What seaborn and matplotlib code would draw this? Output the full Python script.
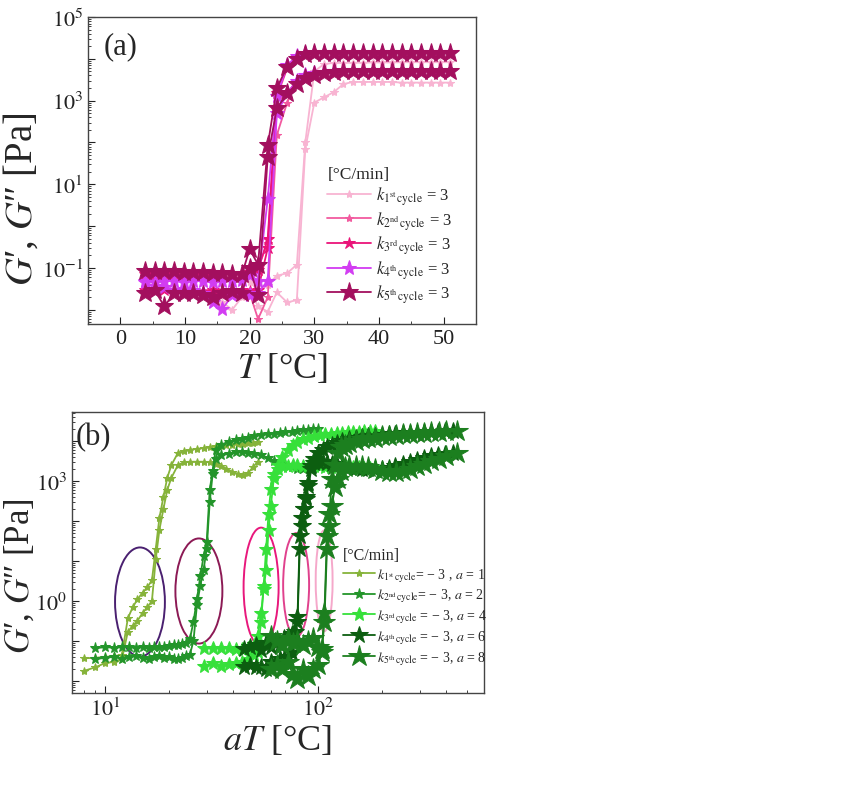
import numpy as np
import matplotlib
matplotlib.use("Agg")
import matplotlib.pyplot as plt
import seaborn as sns
from matplotlib.patches import Ellipse
from matplotlib.ticker import LogLocator, FuncFormatter, MultipleLocator, NullFormatter

# ---- panel (a): heating, k = 3 °C/min ----
T_a = [3.8, 5.3, 6.8, 8.3, 9.8, 11.3, 12.8, 14.3, 15.8, 17.3, 18.8, 20.0, 21.3, 22.8, 24.2, 25.8,
       27.3, 28.6, 30.0, 31.5, 33.0, 34.5, 36.0, 37.5, 39.0, 40.5, 42.0, 43.5, 45.0, 46.5, 48.0, 49.5, 51.0]

k1_Gp = [0.05, 0.05, 0.048, 0.05, 0.05, 0.047, 0.05, 0.045, 0.048, 0.05, 0.05, 0.045, 0.03, 0.04, 0.065,
         0.075, 0.12, 100, 5000, 7500, 8000, 8000, 8100, 8100, 8200, 8200, 8200, 8300, 8300, 8300, 8300, 8300, 8300]
k1_Gpp = [0.03, 0.028, 0.03, 0.025, 0.03, 0.028, 0.025, 0.02, 0.015, 0.01, 0.02, 0.03, 0.012, 0.009, 0.026,
          0.015, 0.017, 70, 900, 1200, 1600, 2500, 2800, 2800, 2800, 2800, 2800, 2700, 2700, 2700, 2700, 2700, 2700]
k2_Gp = [0.06, 0.062, 0.06, 0.058, 0.06, 0.06, 0.057, 0.055, 0.06, 0.058, 0.06, 0.07, 0.1, 0.4, 1200, 6000,
         11000, 13000, 13500, 14000, 14000, 14000, 14000, 14000, 14000, 14000, 14000, 14000, 14000, 14000, 14000, 14000, 14000]
k2_Gpp = [0.035, 0.03, 0.032, 0.03, 0.028, 0.03, 0.03, 0.027, 0.03, 0.03, 0.028, 0.025, 0.006, 0.02, 150, 900,
          3000, 4200, 4600, 4800, 4900, 5000, 5000, 5000, 5000, 5000, 5000, 5000, 5000, 5000, 5000, 5000, 5000]
k3_Gp = [0.07, 0.068, 0.07, 0.07, 0.065, 0.07, 0.068, 0.065, 0.07, 0.068, 0.07, 0.08, 0.09, 0.5, 1500, 6000,
         11000, 13000, 14000, 14000, 14000, 14000, 14000, 14000, 14000, 14000, 14000, 14000, 14000, 14000, 14000, 14000, 14000]
k3_Gpp = [0.03, 0.028, 0.03, 0.03, 0.028, 0.03, 0.027, 0.03, 0.028, 0.03, 0.03, 0.028, 0.03, 0.3, 600, 1500,
          3000, 4000, 4500, 4800, 5000, 5000, 5000, 5000, 5000, 5000, 5000, 5000, 5000, 5000, 5000, 5000, 5000]
k4_Gp = [0.05, 0.045, 0.048, 0.05, 0.045, 0.05, 0.048, 0.045, 0.05, 0.05, 0.052, 0.068, 0.05, 4.4, 1300, 7000,
         12000, 13500, 14000, 14000, 14000, 14000, 14000, 14000, 14000, 14000, 14000, 14000, 14000, 14000, 14000, 14000, 14000]
k4_Gpp = [0.045, 0.037, 0.035, 0.03, 0.032, 0.03, 0.025, 0.015, 0.0105, 0.022, 0.025, 0.023, 0.025, 0.05, 500, 1500,
          3000, 4200, 4600, 4800, 5000, 5000, 5000, 5000, 5000, 5000, 5000, 5000, 5000, 5000, 5000, 5000, 5000]
k5_Gp = [0.085, 0.085, 0.085, 0.085, 0.08, 0.08, 0.078, 0.075, 0.075, 0.07, 0.07, 0.28, 0.12, 85, 2000, 6500,
         10000, 13000, 14000, 14000, 14000, 14000, 14000, 14000, 14000, 14000, 14000, 14000, 14000, 14000, 14000, 14000, 14000]
k5_Gpp = [0.025, 0.03, 0.012, 0.025, 0.025, 0.025, 0.022, 0.02, 0.025, 0.028, 0.025, 0.1, 0.022, 45, 650, 1500,
          2500, 3500, 4000, 4500, 4800, 5000, 5000, 5000, 5000, 5000, 5000, 5000, 5000, 5000, 5000, 5000, 5000]

# ---- panel (b): cooling, k = -3 °C/min, x = aT ----
aT1 = [8.0, 9.0, 10.0, 11.0, 12.0, 12.8, 13.5, 14.2, 15.0, 15.8, 16.6, 17.3, 18.0, 18.8, 19.6, 20.5,
       22.0, 23.5, 25.0, 27.0, 29.0, 31.0, 33.0, 35.0, 37.0, 39.5, 42.0, 44.5, 47.0, 49.5, 52.0]
c1_Gp = [0.037, 0.038, 0.04, 0.042, 0.045, 0.37, 0.7, 1.1, 1.6, 2.2, 3.3, 20, 120, 400, 1200, 2500,
         5000, 5600, 6000, 6300, 6600, 7000, 7300, 7600, 7800, 8000, 8300, 8500, 8700, 9000, 9300]
c1_Gpp = [0.018, 0.022, 0.028, 0.03, 0.035, 0.17, 0.24, 0.32, 0.5, 0.7, 1.0, 11, 60, 200, 600, 1200,
          2500, 2900, 3000, 3000, 3000, 2900, 2700, 2400, 2000, 1700, 1500, 1400, 1600, 2200, 3000]

aT2 = [9.0, 10.0, 11.0, 12.0, 13.0, 14.0, 15.0, 16.0, 17.0, 18.0, 19.0, 20.0, 21.0, 22.0, 23.0, 24.0,
       25.0, 26.0, 27.0, 28.0, 29.0, 30.0, 31.0, 32.0, 33.0, 35.0, 38.0, 41.0, 44.0, 47.0, 50.0,
       54.0, 58.0, 62.0, 66.0, 70.0, 75.0, 80.0, 85.0, 90.0, 95.0, 100.0]
c2_Gp = [0.066, 0.07, 0.068, 0.07, 0.07, 0.068, 0.07, 0.066, 0.07, 0.07, 0.072, 0.075, 0.078, 0.08, 0.085, 0.09,
         0.11, 0.3, 1.1, 4.2, 13, 30, 600, 1800, 6000, 8000, 9500, 10500, 11000, 12000, 13000,
         14000, 14500, 15000, 16000, 16500, 17000, 18000, 18500, 19000, 19500, 20000]
c2_Gpp = [0.035, 0.038, 0.04, 0.036, 0.04, 0.042, 0.038, 0.035, 0.04, 0.042, 0.038, 0.04, 0.036, 0.035, 0.038, 0.042,
          0.045, 0.1, 0.8, 2.4, 6, 20, 300, 1500, 3500, 4300, 4800, 5200, 5300, 5000, 4600,
          4300, 3700, 3200, 2800, 2500, 2200, 2000, 2000, 2100, 2300, 2400]

aT3 = [29, 32, 35, 38, 41, 44, 47, 50, 52, 54, 55.5, 57, 58.5, 60, 62, 65, 68, 72, 76, 80,
       85, 90, 96, 102, 108, 115, 122, 130, 138, 146, 155, 165, 175, 185]
c3_Gp = [0.066, 0.065, 0.068, 0.066, 0.064, 0.063, 0.065, 0.08, 0.13, 0.5, 2, 6, 60, 240, 1200, 2500, 4000, 6000, 8000, 9500,
         11000, 12000, 13000, 14000, 14500, 15000, 15500, 16000, 16500, 17000, 17000, 17500, 17500, 18000]
c3_Gpp = [0.024, 0.028, 0.024, 0.026, 0.028, 0.03, 0.035, 0.045, 0.053, 0.3, 2.4, 20, 150, 630, 1500, 2000, 2300, 2400, 2500, 2500,
          2400, 2400, 2300, 2300, 2200, 2200, 2200, 2300, 2300, 2200, 2200, 2100, 2100, 2200]

aT4 = [45, 48, 51, 54, 57, 60, 63, 66, 69, 72, 75, 77.5, 80, 82, 84, 86, 88, 90, 93, 96, 100,
       105, 110, 116, 122, 130, 140, 150, 160, 172, 185, 200, 215, 230, 250, 270, 290, 315, 340, 365, 395, 430]
c4_Gp = [0.063, 0.07, 0.08, 0.06, 0.09, 0.07, 0.1, 0.08, 0.12, 0.1, 0.15, 0.17, 0.4, 42, 120, 200, 400, 760, 2000, 3500, 5000,
         6000, 7000, 8000, 9000, 10000, 11000, 12000, 12500, 13000, 13500, 14000, 14500, 15000, 15500, 16000, 16000, 16500,
         17000, 17000, 17500, 17500]
c4_Gpp = [0.022, 0.025, 0.022, 0.022, 0.02, 0.03, 0.025, 0.035, 0.035, 0.04, 0.05, 0.1, 0.3, 20, 75, 200, 350, 900, 2300, 2800, 3000,
          3000, 2800, 2600, 2500, 2300, 2200, 2100, 2000, 2000, 1900, 2000, 2100, 2300, 2600, 3000, 3400, 3800,
          4200, 4500, 4800, 5000]

aT5 = [60, 64, 68, 72, 76, 80, 85, 90, 95, 100, 104, 107, 110, 113, 116, 120, 124, 128,
       133, 140, 150, 160, 172, 185, 200, 215, 232, 250, 270, 290, 315, 340, 370, 400, 450]
c5_Gp = [0.13, 0.1, 0.08, 0.12, 0.09, 0.1, 0.08, 0.1, 0.12, 0.07, 0.063, 0.5, 42, 150, 1100, 2500, 5000, 7000,
         8000, 9000, 10000, 11000, 11500, 12000, 13000, 13500, 14000, 14500, 15000, 15500, 16000, 16500, 17000, 17500, 18000]
c5_Gpp = [0.02, 0.025, 0.02, 0.03, 0.015, 0.011, 0.02, 0.013, 0.02, 0.025, 0.053, 0.3, 20, 75, 240, 700, 1100, 1800,
          2200, 2400, 2400, 2300, 2200, 2000, 1800, 1700, 1700, 1800, 2000, 2300, 2700, 3100, 3600, 4200, 5000]

labels_a = [r"$k_{1^{\rm st}\,{\rm cycle}}$ = 3", r"$k_{2^{\rm nd}\,{\rm cycle}}$ = 3", r"$k_{3^{\rm rd}\,{\rm cycle}}$ = 3",
            r"$k_{4^{\rm th}\,{\rm cycle}}$ = 3", r"$k_{5^{\rm th}\,{\rm cycle}}$ = 3"]
labels_b = [r"$k_{1^{\rm st}\,{\rm cycle}}$= − 3 , $a$ = 1", r"$k_{2^{\rm nd}\,{\rm cycle}}$= − 3, $a$ = 2",
            r"$k_{3^{\rm rd}\,{\rm cycle}}$ = − 3, $a$ = 4", r"$k_{4^{\rm th}\,{\rm cycle}}$ = − 3, $a$ = 6",
            r"$k_{5^{\rm th}\,{\rm cycle}}$ = − 3, $a$ = 8"]

colors_a = ["#f8b4d2", "#f25a9f", "#ea1479", "#d23cf2", "#a30f5e"]
msize_a = [6, 6, 9, 11, 14]
colors_b = ["#86b33a", "#23952a", "#36e03a", "#0c5e10", "#1c7f1f"]
msize_b = [6, 8, 10, 13, 16]
ellipse_colors = ["#4a2070", "#8c1a55", "#e8187c", "#e0418d", "#f5a8ca"]

sns.set_style("ticks")
plt.rcParams["font.family"] = ["Liberation Serif", "DejaVu Serif"]
plt.rcParams["mathtext.fontset"] = "stix"
plt.rcParams["axes.edgecolor"] = "#444444"

fig = plt.figure(figsize=(8.5, 8.12), dpi=100)
ax1 = fig.add_axes([0.1035, 0.5998, 0.4565, 0.378])
ax2 = fig.add_axes([0.0847, 0.1453, 0.4847, 0.3461])


def dec_fmt(shown):
    def f(v, pos):
        e = np.log10(v)
        if abs(e - round(e)) < 1e-6 and int(round(e)) in shown:
            return r"$10^{%d}$" % int(round(e))
        return ""
    return FuncFormatter(f)


ylab = "$G$′, $G$″ [Pa]"

# panel (a)
series_a = [(k1_Gp, k1_Gpp), (k2_Gp, k2_Gpp), (k3_Gp, k3_Gpp), (k4_Gp, k4_Gpp), (k5_Gp, k5_Gpp)]
for (gp, gpp), c, ms, lab in zip(series_a, colors_a, msize_a, labels_a):
    for vals, l in ((gp, lab), (gpp, None)):
        sns.lineplot(x=T_a, y=vals, ax=ax1, color=c, marker="*", markersize=ms, markeredgecolor=c,
                     linewidth=1.3, sort=False, estimator=None, label=l, legend=False)
ax1.set_yscale("log")
ax1.set_xlim(-5, 55)
ax1.set_ylim(10 ** -2.34, 1e5)
ax1.xaxis.set_major_locator(MultipleLocator(10))
ax1.xaxis.set_minor_locator(MultipleLocator(5))
ax1.yaxis.set_major_locator(LogLocator(base=10, numticks=20))
ax1.yaxis.set_minor_locator(LogLocator(base=10, subs=np.arange(2, 10), numticks=20))
ax1.yaxis.set_major_formatter(dec_fmt({-1, 1, 3, 5}))
ax1.yaxis.set_minor_formatter(NullFormatter())
ax1.set_xlabel(r"$T$ [°C]", fontsize=26, labelpad=2)
ax1.set_ylabel(ylab, fontsize=28)
ax1.yaxis.set_label_coords(-0.122, 0.41)
ax1.text(0.04, 0.955, "(a)", transform=ax1.transAxes, fontsize=22, va="top")
h, l = ax1.get_legend_handles_labels()
ax1.legend(h, l, title="[°C/min]", loc="upper left", bbox_to_anchor=(0.6, 0.535), frameon=False,
           fontsize=12, title_fontsize=12.5, alignment="left", handlelength=2.6, labelspacing=0.12,
           borderaxespad=0, handletextpad=0.3)

# panel (b)
series_b = [(aT1, c1_Gp, c1_Gpp), (aT2, c2_Gp, c2_Gpp), (aT3, c3_Gp, c3_Gpp), (aT4, c4_Gp, c4_Gpp), (aT5, c5_Gp, c5_Gpp)]
for (x, gp, gpp), c, ms, lab in zip(series_b, colors_b, msize_b, labels_b):
    for vals, l in ((gp, lab), (gpp, None)):
        sns.lineplot(x=x, y=vals, ax=ax2, color=c, marker="*", markersize=ms, markeredgecolor=c,
                     linewidth=1.3, sort=False, estimator=None, label=l, legend=False)
ax2.set_xscale("log")
ax2.set_yscale("log")
ax2.set_xlim(7.0, 600)
ax2.set_ylim(10 ** -2.3, 10 ** 4.72)
for axis, shown in ((ax2.xaxis, {1, 2}), (ax2.yaxis, {0, 3})):
    axis.set_major_locator(LogLocator(base=10, numticks=20))
    axis.set_minor_locator(LogLocator(base=10, subs=np.arange(2, 10), numticks=20))
    axis.set_major_formatter(dec_fmt(shown))
    axis.set_minor_formatter(NullFormatter())
ax2.set_xlabel(r"$aT$ [°C]", fontsize=26, labelpad=2)
ax2.set_ylabel(ylab, fontsize=25)
ax2.yaxis.set_label_coords(-0.085, 0.42)
ax2.text(0.01, 0.965, "(b)", transform=ax2.transAxes, fontsize=22, va="top")

ell_pos = [(0.165, 0.324, 0.121, 0.388), (0.308, 0.363, 0.114, 0.374), (0.459, 0.377, 0.085, 0.423),
           (0.544, 0.384, 0.063, 0.370), (0.612, 0.399, 0.041, 0.359)]
for (cx, cy, w, hh), ec in zip(ell_pos, ellipse_colors):
    ax2.add_patch(Ellipse((cx, cy), w, hh, transform=ax2.transAxes, fill=False, edgecolor=ec, linewidth=1.4))

h, l = ax2.get_legend_handles_labels()
ax2.legend(h, l, title="[°C/min]", loc="upper left", bbox_to_anchor=(0.645, 0.54), frameon=False,
           fontsize=10, title_fontsize=11.5, alignment="left", handlelength=2.3, labelspacing=0.22,
           borderaxespad=0, handletextpad=0.15)

for ax in (ax1, ax2):
    ax.tick_params(which="both", direction="in", top=False, right=False, labelsize=16, colors="#222222")
    ax.tick_params(which="major", length=5)
    ax.tick_params(which="minor", length=2.5)
    for s in ax.spines.values():
        s.set_visible(True)
        s.set_linewidth(1.0)

fig.savefig("out.png", dpi=100)
